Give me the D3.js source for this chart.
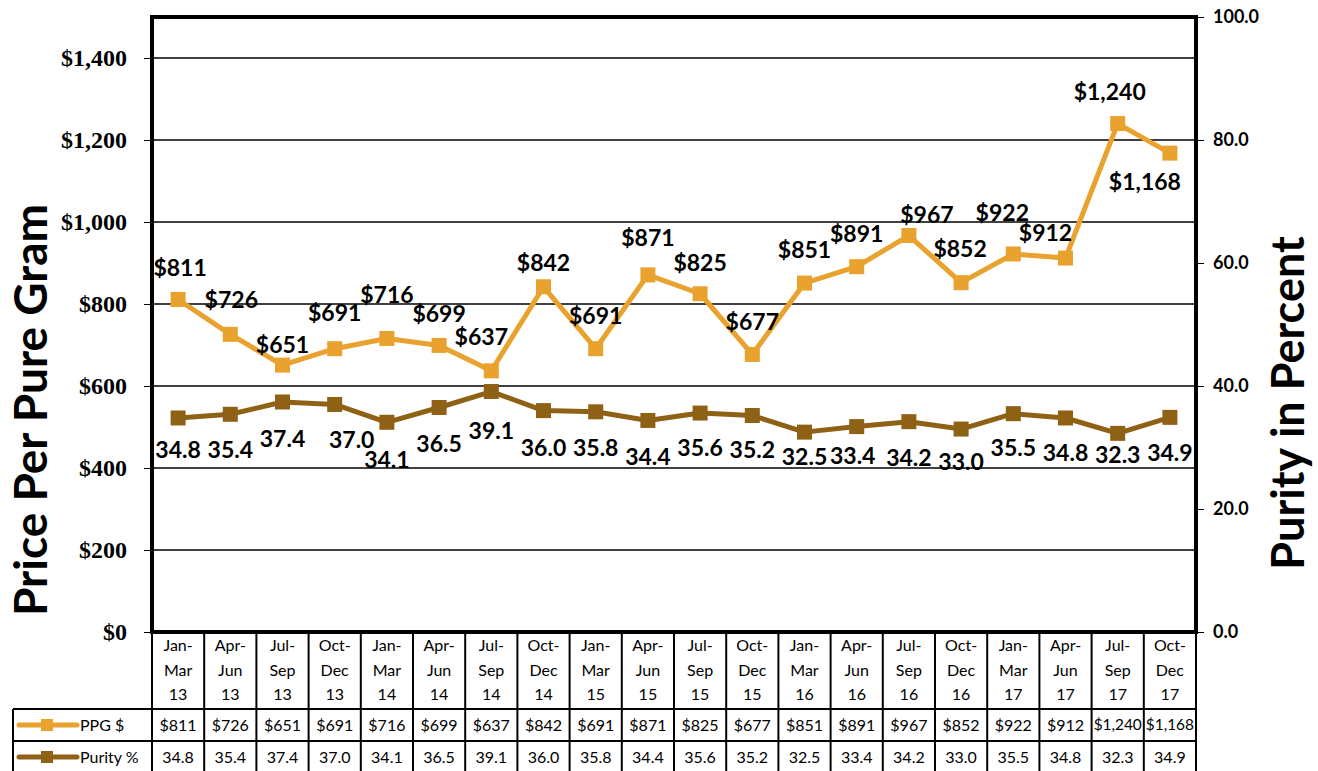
<!DOCTYPE html>
<html>
  <head>
    <meta charset="utf-8">
    <title>PPG and Purity</title>
    <style>
      body{ margin:0; background:#fff; }
      svg{ display:block; }
      text{ font-family: Lato, "Open Sans", sans-serif; fill:#000; }
    </style>
  </head>
  <body>
    <svg id="chart" width="1318" height="771"></svg>
  </body>
  <script src="https://d3js.org/d3.v7.min.js"></script>
  <script>
    // quarters shown on the x axis
    var quarters = ["Jan-Mar 13","Apr-Jun 13","Jul-Sep 13","Oct-Dec 13",
                    "Jan-Mar 14","Apr-Jun 14","Jul-Sep 14","Oct-Dec 14",
                    "Jan-Mar 15","Apr-Jun 15","Jul-Sep 15","Oct-Dec 15",
                    "Jan-Mar 16","Apr-Jun 16","Jul-Sep 16","Oct-Dec 16",
                    "Jan-Mar 17","Apr-Jun 17","Jul-Sep 17","Oct-Dec 17"]
    var ppg = [811,726,651,691,716,699,637,842,691,871,825,677,851,891,967,852,922,912,1240,1168]
    var purity = [34.8,35.4,37.4,37.0,34.1,36.5,39.1,36.0,35.8,34.4,35.6,35.2,32.5,33.4,34.2,33.0,35.5,34.8,32.3,34.9]
    var priceTicks = [0,200,400,600,800,1000,1200,1400]
    var purityTicks = [0,20,40,60,80,100]

    // label nudges (dx,dy) so the value labels sit where excel put them
    var ppgNudge = [[2,-32],[1,-34],[0,-20],[0,-36],[0,-43],[0,-31],[-10,-34],[0,-24],[0,-33],[0,-37],
                    [0,-31],[0,-32],[0,-33],[0,-33],[18,-21],[-1,-34],[-11,-41],[-20,-25],[-8,-32],[-25,29]]
    var purityNudge = [[0,32],[0,36],[0,37],[17,35],[0,38],[0,36],[0,39],[0,37],[0,36],[0,37],
                       [0,35],[0,34],[0,25],[-4,29],[0,36],[0,33],[0,34],[0,35],[0,22],[0,36]]

    var orange = "#E9A22E", brown = "#8E6115"

    var svg = d3.select("#chart")
    var L = 152, R = 1196, T = 17, B = 632

    var x = d3.scaleBand().domain(quarters).range([L,R])
    var yL = d3.scaleLinear().domain([0,1500]).range([B,T])
    var yR = d3.scaleLinear().domain([0,100]).range([B,T])

    // grid
    svg.append("g").selectAll("line").data(priceTicks.slice(1)).enter()
      .append("line").attr("x1",L).attr("x2",R)
      .attr("y1",function(d){return yL(d)}).attr("y2",function(d){return yL(d)})
      .attr("stroke","#000").attr("stroke-width",1.3)

    // axes
    var ax = svg.append("g").attr("transform","translate("+L+",0)")
      .call(d3.axisLeft(yL).tickValues(priceTicks).tickSize(8).tickPadding(17)
        .tickFormat(function(d){return "$"+d3.format(",")(d)}))
    ax.select(".domain").remove()
    ax.selectAll("text").style("font-family","'Liberation Serif', serif").style("font-weight","bold")
      .style("font-size","24px").attr("fill","#222")
    ax.selectAll("line").attr("stroke","#000")

    var ar = svg.append("g").attr("transform","translate("+R+",0)")
      .call(d3.axisRight(yR).tickValues(purityTicks).tickSize(8).tickPadding(9)
        .tickFormat(d3.format(".1f")))
    ar.select(".domain").remove()
    ar.selectAll("text").style("font-family","Lato, sans-serif").style("font-weight","bold")
      .style("font-size","18px").attr("fill","#222")
    ar.selectAll("line").attr("stroke","#000")

    // plot frame
    svg.append("rect").attr("x",L).attr("y",T).attr("width",R-L).attr("height",B-T)
      .attr("fill","none").attr("stroke","#000").attr("stroke-width",4)

    // titles
    svg.append("text").attr("transform","translate(47,410) rotate(-90)")
      .attr("text-anchor","middle").style("font-weight","bold").style("font-size","46px")
      .text("Price Per Pure Gram")
    svg.append("text").attr("transform","translate(1304,403) rotate(-90)")
      .attr("text-anchor","middle").style("font-weight","bold").style("font-size","45px")
      .text("Purity in Percent")

    function cx(d,i){ return x(quarters[i]) + x.bandwidth()/2 }

    function series(vals, scale, color, nudge, fmt){
      var g = svg.append("g")
      g.append("path").datum(vals)
        .attr("d", d3.line().x(function(d,i){return cx(d,i)}).y(function(d){return scale(d)}))
        .attr("fill","none").attr("stroke",color).attr("stroke-width",5).attr("stroke-linejoin","round")
      g.selectAll("rect").data(vals).enter().append("rect")
        .attr("x",function(d,i){return cx(d,i)-7.5}).attr("y",function(d){return scale(d)-7.5})
        .attr("width",15).attr("height",15).attr("fill",color)
      g.selectAll("text").data(vals).enter().append("text")
        .attr("x",function(d,i){return cx(d,i)+nudge[i][0]})
        .attr("y",function(d,i){return scale(d)+nudge[i][1]})
        .attr("dy","0.35em").attr("text-anchor","middle")
        .style("font-weight","bold").style("font-size","23px")
        .text(fmt)
    }
    series(ppg, yL, orange, ppgNudge, function(d){return "$"+d3.format(",")(d)})
    series(purity, yR, brown, purityNudge, d3.format(".1f"))

    // data table
    var rowTop = 709, rowH = 32, legendLeft = 13
    var tbl = svg.append("g")
    var col = tbl.selectAll("g.col").data(quarters).enter().append("g").attr("class","col")
    col.append("line").attr("x1",function(d){return x(d)}).attr("x2",function(d){return x(d)})
      .attr("y1",B).attr("y2",771).attr("stroke","#000").attr("stroke-width",2)
    col.each(function(d){
      var parts = d.split(" "), mm = parts[0].split("-")
      var lines = [mm[0]+"-", mm[1], parts[1]]
      d3.select(this).selectAll("text").data(lines).enter().append("text")
        .attr("x",x(d)+x.bandwidth()/2).attr("y",function(t,k){return 651+k*24.5})
        .attr("text-anchor","middle").style("font-size","16px").text(function(t){return t})
    })
    tbl.append("line").attr("x1",R).attr("x2",R).attr("y1",B).attr("y2",771)
      .attr("stroke","#000").attr("stroke-width",2)
    tbl.append("line").attr("x1",legendLeft).attr("x2",legendLeft).attr("y1",rowTop).attr("y2",771)
      .attr("stroke","#000").attr("stroke-width",2)
    tbl.append("line").attr("x1",L).attr("x2",L).attr("y1",rowTop).attr("y2",771)
      .attr("stroke","#000").attr("stroke-width",2)
    ;[rowTop, rowTop+rowH].forEach(function(yy){
      tbl.append("line").attr("x1",legendLeft).attr("x2",R).attr("y1",yy).attr("y2",yy)
        .attr("stroke","#000").attr("stroke-width",2)
    })

    var rows = [
      {name:"PPG $", color:orange, vals:ppg, fmt:function(d){return "$"+d3.format(",")(d)}},
      {name:"Purity %", color:brown, vals:purity, fmt:d3.format(".1f")}
    ]
    rows.forEach(function(r,k){
      var yy = rowTop + k*rowH + rowH/2
      tbl.append("line").attr("x1",19).attr("x2",77).attr("y1",yy).attr("y2",yy)
        .attr("stroke",r.color).attr("stroke-width",5).attr("stroke-linecap","round")
      tbl.append("rect").attr("x",41).attr("y",yy-6).attr("width",12).attr("height",12).attr("fill",r.color)
      tbl.append("text").attr("x",80).attr("y",yy).attr("dy","0.35em").style("font-size","16px").text(r.name)
      tbl.selectAll(null).data(r.vals).enter().append("text")
        .attr("x",function(d,i){return cx(d,i)}).attr("y",yy).attr("dy","0.35em")
        .attr("text-anchor","middle").style("font-size","16px").text(r.fmt)
        .each(function(){
          var w = this.getComputedTextLength()
          if (w > x.bandwidth()-4) d3.select(this).style("font-size", (16*(x.bandwidth()-4)/w)+"px")
        })
    })
  </script>
</html>
